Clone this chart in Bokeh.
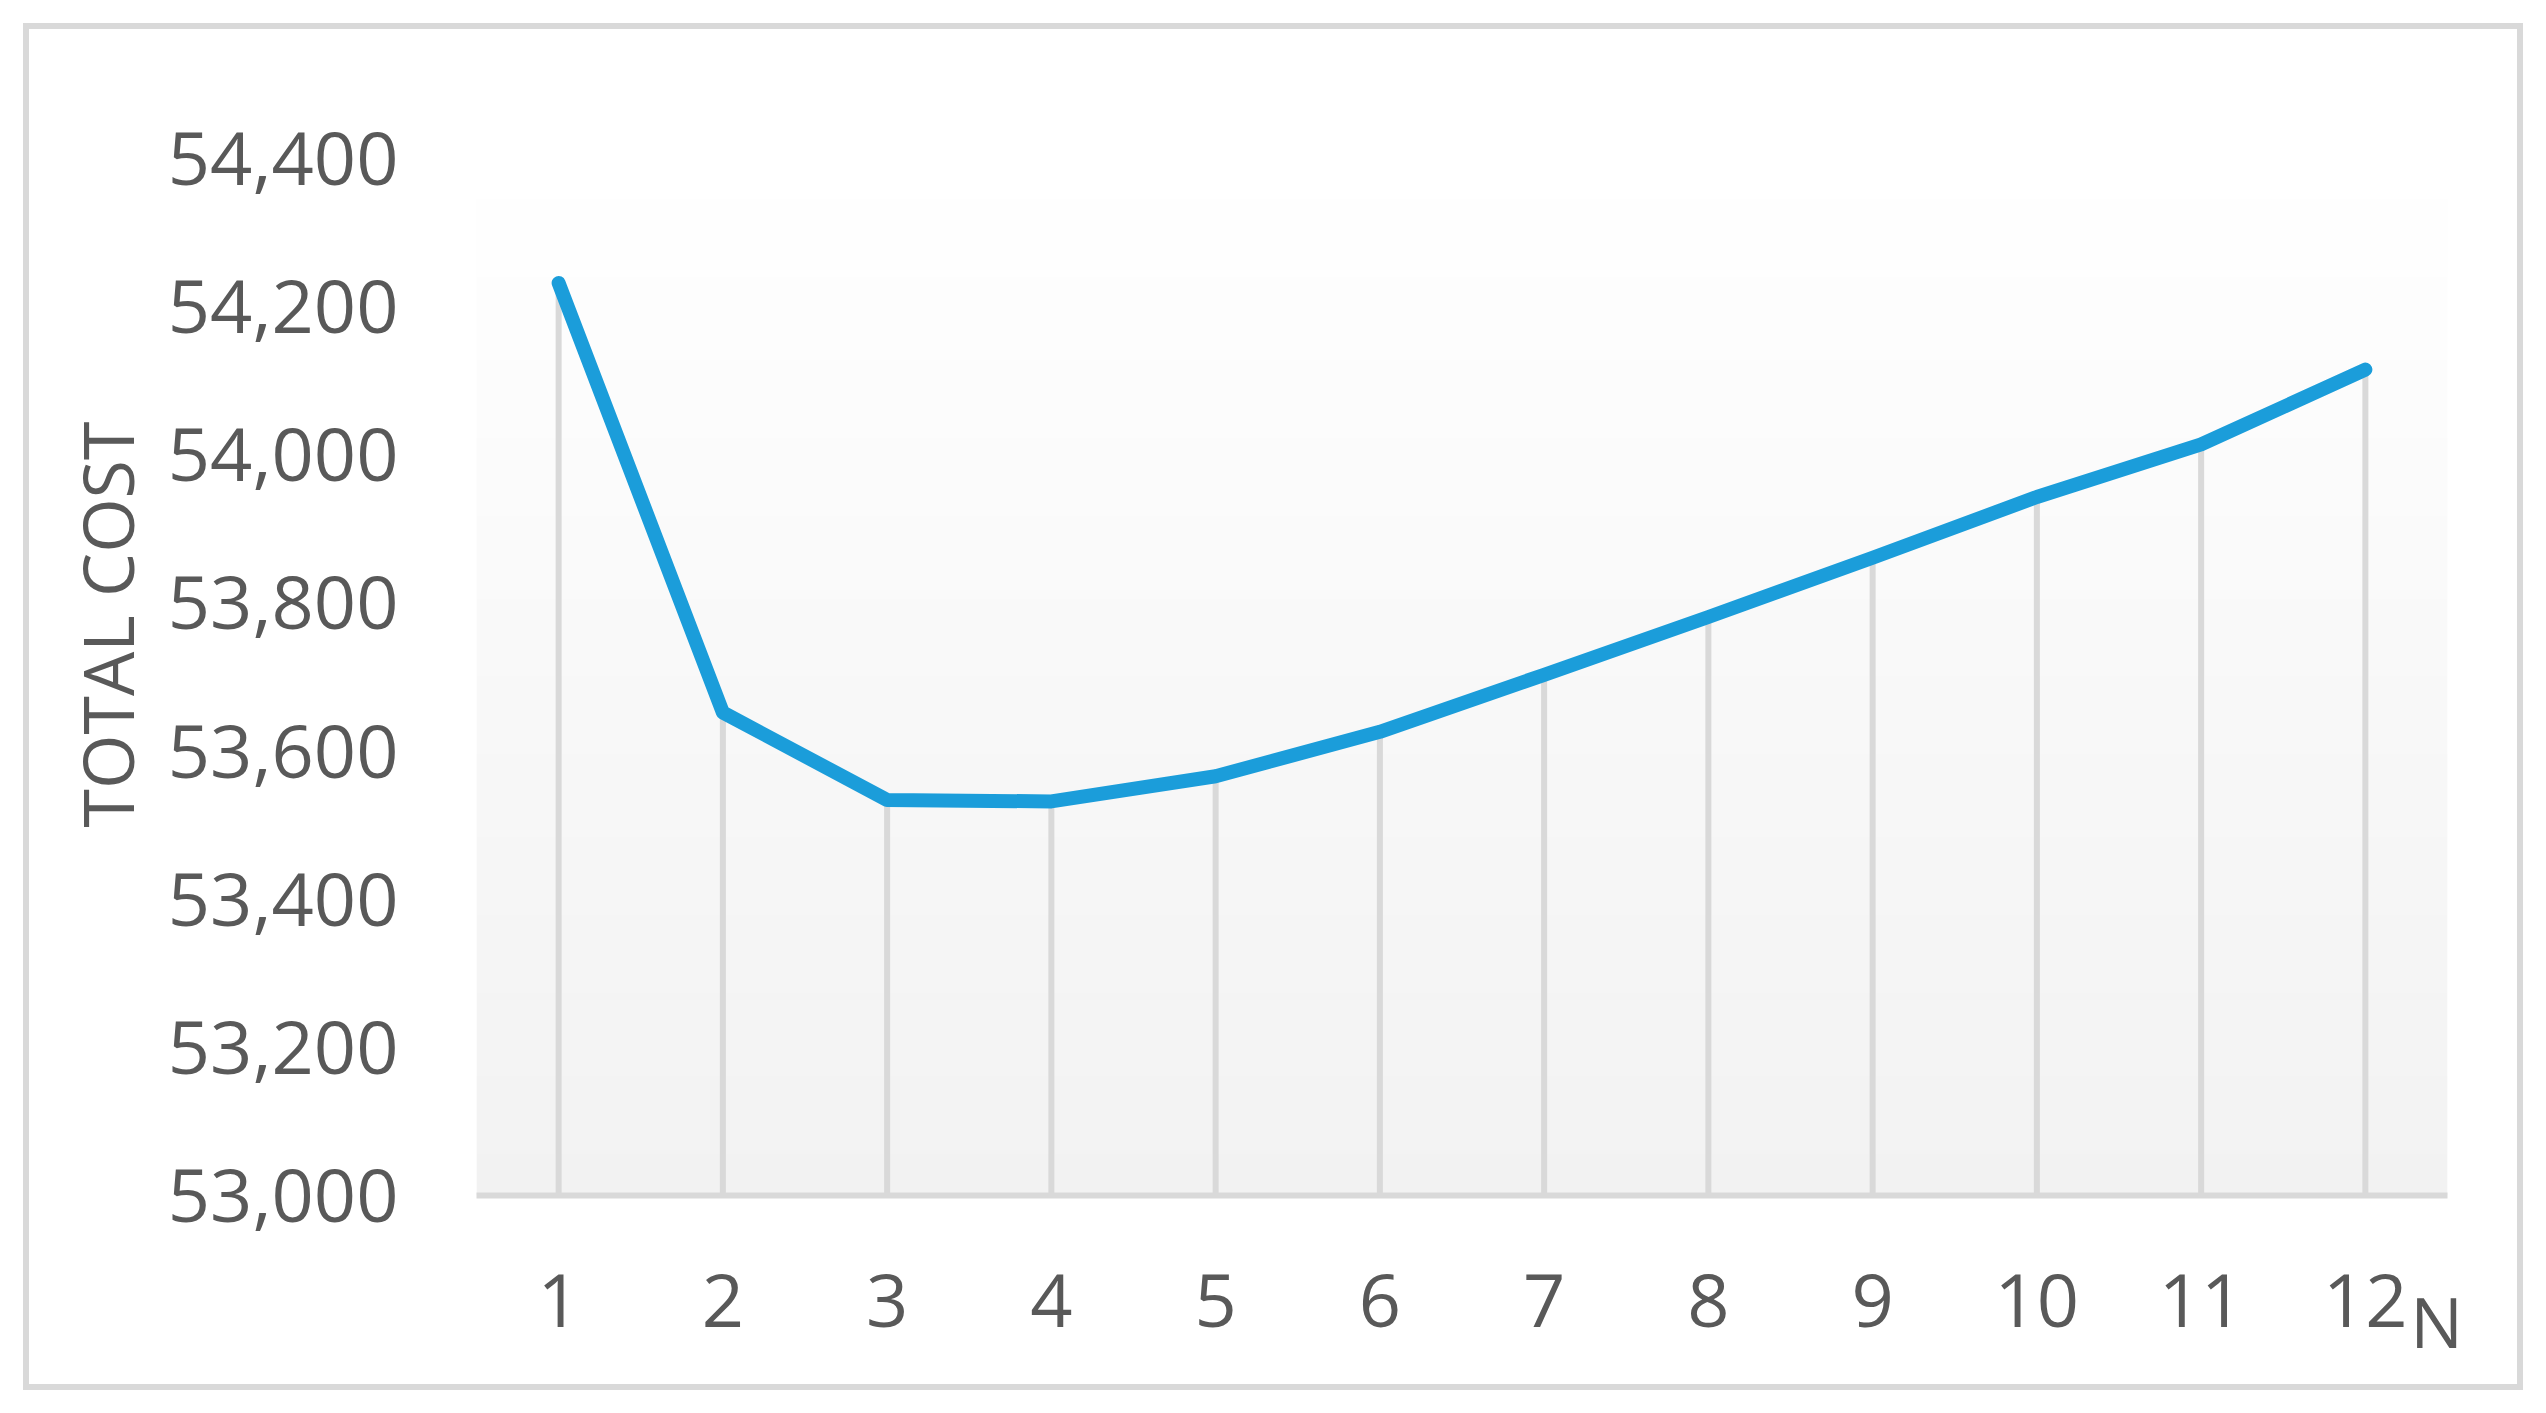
import numpy as np
from bokeh.plotting import figure
from bokeh.models import Range1d, FixedTicker, NumeralTickFormatter, LinearAxis
from bokeh.embed import file_html
from bokeh.resources import INLINE

# ---- data ----
n_values = [1, 2, 3, 4, 5, 6, 7, 8, 9, 10, 11, 12]
total_cost = [54232, 53652, 53534, 53532, 53566, 53626, 53703, 53781, 53861, 53943, 54014, 54115]
y_ticks = [53000, 53200, 53400, 53600, 53800, 54000, 54200, 54400]
y_axis_title = "TOTAL COST"
x_axis_title = "N"

# ---- layout (pixels of the page) ----
W, H = 2546, 1413
LEFT, RIGHT, TOP, BOTTOM = 476, 99, 158, 218
X0, X1 = 0.5, 12.5
Y0, Y1 = y_ticks[0], y_ticks[-1]

FONT = "Open Sans"
TXT = "#595959"
GRID = "#d9d9d9"
LINE = "#1B9DDA"

p = figure(width=W, height=H, output_backend="svg", toolbar_location=None,
           x_range=Range1d(X0, X1), y_range=Range1d(Y0, Y1),
           min_border_left=LEFT, min_border_right=RIGHT,
           min_border_top=TOP, min_border_bottom=BOTTOM)
p.outline_line_color = None
# transparent canvas so the page-level chart border (CSS outline) shows through
p.background_fill_color = None
p.border_fill_color = None
p.xgrid.grid_line_color = None
p.ygrid.grid_line_color = None
p.styles = {"background-color": "white",
            "outline": "6px solid #d9d9d9", "outline-offset": "-29px"}

# pixel-based helper ranges for the axis titles
p.extra_x_ranges = {"px": Range1d(LEFT, W - RIGHT)}
p.extra_y_ranges = {"py": Range1d(H - BOTTOM, TOP)}

# plot-area gradient (white at top -> light grey at bottom)
rows = 200
shade = np.linspace(242, 255, rows).round().astype(np.uint8)
img = np.empty((rows, 1), dtype=np.uint32)
view = img.view(dtype=np.uint8).reshape((rows, 1, 4))
view[:, 0, 0] = shade
view[:, 0, 1] = shade
view[:, 0, 2] = shade
view[:, 0, 3] = 255
p.image_rgba(image=[img], x=X0, y=Y0, dw=X1 - X0, dh=Y1 - Y0)

# drop lines
p.segment(x0=n_values, y0=Y0, x1=n_values, y1=total_cost,
          line_color=GRID, line_width=6)

# series line
p.line(n_values, total_cost, line_color=LINE, line_width=14,
       line_cap="round", line_join="round")

# main axes
p.xaxis.ticker = FixedTicker(ticks=n_values)
p.yaxis.ticker = FixedTicker(ticks=y_ticks)
p.yaxis.formatter = NumeralTickFormatter(format="0,0")
for ax in (p.xaxis, p.yaxis):
    ax.major_tick_line_color = None
    ax.minor_tick_line_color = None
    ax.major_tick_out = 0
    ax.major_tick_in = 0
    ax.major_label_text_font = FONT
    ax.major_label_text_font_size = "74px"
    ax.major_label_text_color = TXT
p.yaxis.axis_line_color = None
p.xaxis.axis_line_color = GRID
p.xaxis.axis_line_width = 6
p.yaxis.major_label_standoff = 78
p.xaxis.major_label_standoff = 78

# y title as a label-only axis
yt = LinearAxis(y_range_name="py", ticker=FixedTicker(ticks=[624]),
                major_label_overrides={624: y_axis_title},
                major_label_orientation="vertical",
                axis_line_color=None, major_tick_line_color=None,
                minor_tick_line_color=None, major_tick_in=0, major_tick_out=0,
                major_label_standoff=10,
                major_label_text_font=FONT, major_label_text_font_size="70px",
                major_label_text_color=TXT)
p.add_layout(yt, "left")

# x title "N" as a label-only axis
xt = LinearAxis(x_range_name="px", ticker=FixedTicker(ticks=[2436]),
                major_label_overrides={2436: x_axis_title},
                axis_line_color=None, major_tick_line_color=None,
                minor_tick_line_color=None, major_tick_in=0, major_tick_out=0,
                major_label_standoff=-57,
                major_label_text_font=FONT, major_label_text_font_size="70px",
                major_label_text_color=TXT)
p.add_layout(xt, "below")

open("out.html", "w").write(file_html(p, INLINE))
